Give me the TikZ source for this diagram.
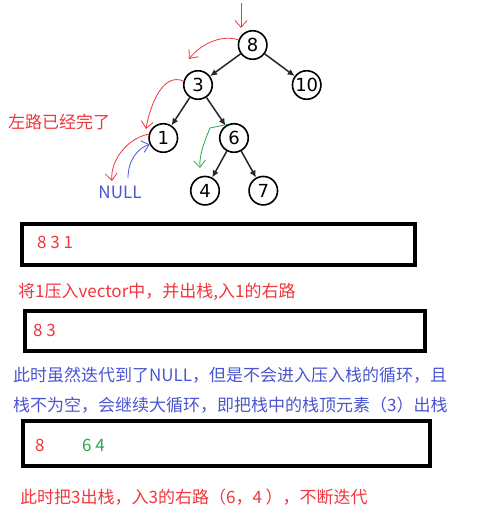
\documentclass[tikz,border=0pt]{standalone}
\usepackage{fontspec}
\setmainfont{Noto Sans CJK SC}
\newfontfamily\treefont{DejaVu Sans}
\usepackage{tikz}
\usetikzlibrary{arrows.meta,positioning,calc}
\definecolor{redpen}{HTML}{F0363E}
\definecolor{bluepen}{HTML}{4A55CF}
\definecolor{greenpen}{HTML}{2BA84A}

\begin{document}
\begin{tikzpicture}[x=1pt,y=-1pt,font=\fontsize{17}{20}\selectfont,
  tnode/.style={draw,circle,line width=1.6pt,minimum size=28.5pt,inner sep=0pt,font=\treefont\fontsize{18}{20}\selectfont},
  tedge/.style={-{Latex[length=7pt,width=6.5pt]},line width=1.5pt,black!85},
  stackbox/.style={draw,line width=4pt,anchor=north west,inner sep=0pt},
  pen/.style={line width=0.8pt,-{Straight Barb[length=7pt,width=12pt]}},
  txt/.style={anchor=west,inner sep=0pt}]
  \useasboundingbox (0,0) rectangle (480,519);

  % tree
  \node[tnode] (n8) at (252.7,45) {8};
  \node[tnode] (n3) at (198,85) {3};
  \node[tnode] (n10) at (306.7,85) {10};
  \node[tnode] (n1) at (163.3,138) {1};
  \node[tnode] (n6) at (234,138) {6};
  \node[tnode] (n4) at (205,190.7) {4};
  \node[tnode] (n7) at (263.3,190.7) {7};

  \draw[tedge] (n8) -- (n3);
  \draw[tedge] (n8) -- (n10);
  \draw[tedge] (n3) -- (n1);
  \draw[tedge] (n3) -- (n6);
  \draw[tedge] (n6) -- (n4);
  \draw[tedge] (n6) -- (n7);

  \node[txt,text=redpen] (leftdone) at (8,122) {左路已经完了};
  \node[text=bluepen,inner sep=0pt] (null) at (120,192) {NULL};

  % hand drawn marks
  \coordinate (in8) at (241,3);
  \coordinate (in8e) at (241,28);
  \coordinate (to3) at (189,59);
  \coordinate (to1) at (146,129);
  \coordinate (tonull) at (112,181);
  \coordinate (nullup) at (128,178);
  \coordinate (gbend) at (210,128);
  \coordinate (to4) at (200,168);

  \draw[pen,redpen] (in8) -- (in8e);
  \draw[pen,redpen] (n8.160) .. controls (220,34) and (200,45) .. (to3);
  \draw[pen,redpen] (n3.165) .. controls (163,72) and (150,105) .. (to1);
  \draw[pen,redpen] (n1.165) .. controls (128,138) and (110,160) .. (tonull);
  \draw[pen,bluepen] (nullup) .. controls (128,160) and (138,148) .. (n1.205);
  \draw[pen,greenpen] (n6.115) -- (gbend) .. controls (205,140) and (199,155) .. (to4);

  % stack states
  \node[stackbox,minimum width=393.8pt,minimum height=40.6pt] (box1) at (19.5,222) {};
  \node[txt,text=redpen] (s1) at (37,242.5) {8 3 1};
  \node[txt,text=redpen] (t1) at (18,292) {将1压入vector中，并出栈,入1的右路};

  \node[stackbox,minimum width=400pt,minimum height=39.5pt] (box2) at (23,309) {};
  \node[txt,text=redpen] (s2) at (33,330.5) {8 3};
  \node[txt,text=bluepen,align=left,font=\fontsize{17}{30}\selectfont] (t2) at (13,390) {此时虽然迭代到了NULL，但是不会进入压入栈的循环，且\\栈不为空，会继续大循环，即把栈中的栈顶元素（3）出栈};

  \node[stackbox,minimum width=406.2pt,minimum height=44.7pt] (box3) at (21.3,419) {};
  \node[txt,text=redpen] (s3a) at (35,445) {8};
  \node[txt,text=greenpen] (s3b) at (82,445) {6 4};
  \node[txt,text=redpen] (t3) at (20,497) {此时把3出栈，入3的右路（6，4 ），不断迭代};
\end{tikzpicture}
\end{document}
